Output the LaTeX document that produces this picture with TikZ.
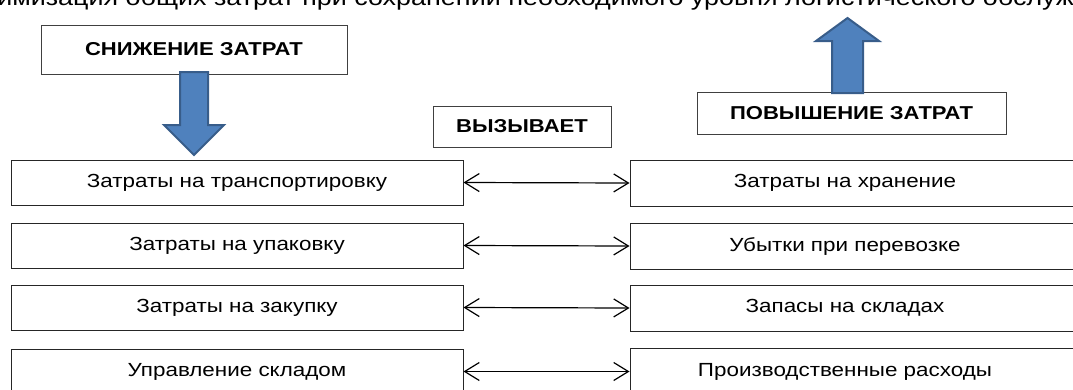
\documentclass[tikz,border=0pt]{standalone}
\usepackage{fontspec}
\setmainfont{Liberation Sans}[FakeStretch=1.18]
\usetikzlibrary{arrows.meta}
\definecolor{arrowblue}{HTML}{4F81BD}
\definecolor{arrowedge}{HTML}{385D8A}
\begin{document}
\begin{tikzpicture}[x=0.75pt,y=-0.75pt,
  box/.style={draw=black!85, line width=0.75pt, inner sep=0pt, minimum height=33.75pt,
    font=\fontsize{14.25}{16}\selectfont},
  rbox/.style={box, minimum width=333pt, minimum height=34.5pt, execute at begin node={\kern-10.5pt}},
  headbox/.style={draw=black!75, line width=0.75pt, inner sep=0pt,
    font=\fontsize{14}{16}\selectfont\bfseries},
  link/.style={line width=0.9pt, {Straight Barb[length=11pt,width=13.5pt]}-{Straight Barb[length=11pt,width=13.5pt]}},
  bigarrow/.style={fill=arrowblue, draw=arrowedge, line width=1.5pt, line join=miter}]
\useasboundingbox (0,0) rectangle (1073,389);
\clip (0,0) rectangle (1073,389);
\fill[white] (0,0) rectangle (1073,389);

\node[anchor=base west, inner sep=0pt, font=\fontsize{17.1}{19}\selectfont] (title) at (-3,5)
  {\llap{Мин}имизация общих затрат при сохранении необходимого уровня логистического обслуживания};

\node[headbox, minimum width=229.5pt, minimum height=36.75pt] (snizh) at (194,49.5) {СНИЖЕНИЕ ЗАТРАТ};
\node[headbox, minimum width=133.5pt, minimum height=30.75pt] (vyz) at (522,126.5) {ВЫЗЫВАЕТ};
\node[headbox, minimum width=231.75pt, minimum height=31.5pt] (pov) at (851.5,113) {ПОВЫШЕНИЕ ЗАТРАТ};

\node[box, minimum width=339pt] (l1) at (237,182.5) {Затраты на транспортировку};
\node[box, minimum width=339pt] (l2) at (237,245.5) {Затраты на упаковку};
\node[box, minimum width=339pt] (l3) at (237,307.5) {Затраты на закупку};
\node[box, minimum width=339pt] (l4) at (237,371.5) {Управление складом};

\node[rbox] (r1) at (852,183) {Затраты на хранение};
\node[rbox] (r2) at (852,246) {Убытки при перевозке};
\node[rbox] (r3) at (852,308) {Запасы на складах};
\node[rbox] (r4) at (852,371.5) {Производственные расходы};

\draw[link] (l1.east) -- (r1.west);
\draw[link] (l2.east) -- (r2.west);
\draw[link] (l3.east) -- (r3.west);
\draw[link] (l4.east) -- (r4.west);

\draw[bigarrow] (180,72) -- (208,72) -- (208,125) -- (224,125) -- (194,155) -- (164,125) -- (180,125) -- cycle;
\draw[bigarrow] (832,93) -- (863,93) -- (863,41) -- (879,41) -- (847.5,18) -- (816,41) -- (832,41) -- cycle;
\end{tikzpicture}
\end{document}
